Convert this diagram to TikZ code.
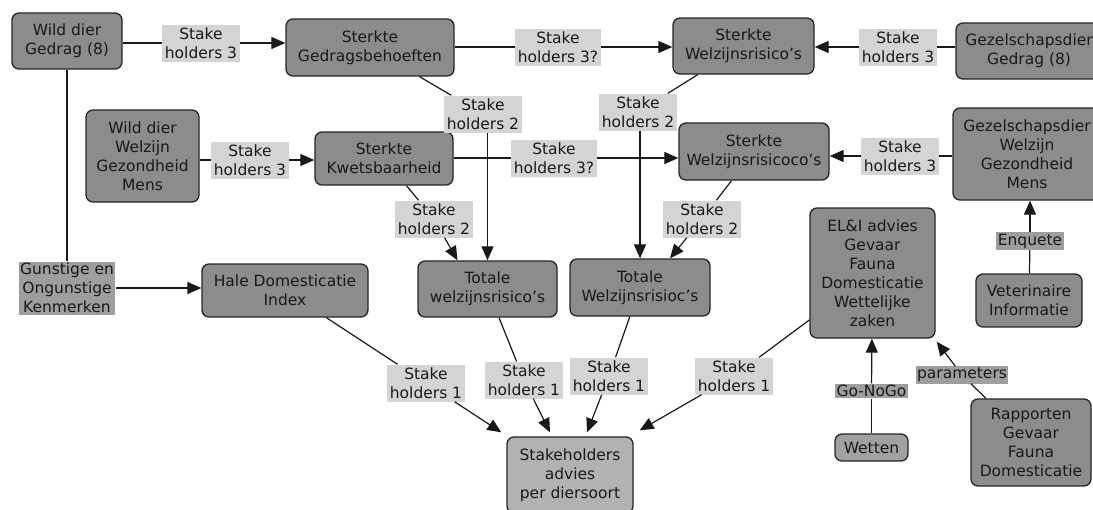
\documentclass[tikz,border=0pt]{standalone}
\usepackage{fontspec}
\setmainfont{DejaVu Sans}
\usetikzlibrary{arrows.meta}

\begin{document}
\begin{tikzpicture}[x=1pt,y=-1pt,
  concept/.style={draw=black!85,fill=black!45,rounded corners=7pt,line width=1.3pt,
    align=center,inner sep=2pt,text=black!90},
  link/.style={fill=black!17,align=center,inner sep=3pt,text=black!90},
  darklink/.style={fill=black!38,align=center,inner sep=1.5pt,text=black!90},
  conn/.style={line width=1.2pt,draw=black!90},
  arr/.style={conn,-{Triangle[length=14pt,width=12pt]}},
  font=\fontsize{15.5}{19}\selectfont]
  \useasboundingbox (0,0) rectangle (1093,509);

  % concepts
  \node[concept,minimum width=110pt,minimum height=56pt] (wgedrag) at (67,41) {Wild dier\\Gedrag (8)};
  \node[concept,minimum width=168pt,minimum height=57pt] (sgedrag) at (370,47.5) {Sterkte\\Gedragsbehoeften};
  \node[concept,minimum width=141pt,minimum height=56pt] (swelz1) at (743.5,46) {Sterkte\\Welzijnsrisico's};
  \node[concept,minimum width=146pt,minimum height=56pt] (ggedrag) at (1029,51) {Gezelschapsdier\\Gedrag (8)};
  \node[concept,minimum width=113pt,minimum height=92pt] (wwelz) at (142.5,156) {Wild dier\\Welzijn\\Gezondheid\\Mens};
  \node[concept,minimum width=138pt,minimum height=53pt] (skwets) at (384,158.5) {Sterkte\\Kwetsbaarheid};
  \node[concept,minimum width=150pt,minimum height=57pt] (swelz2) at (754,151.5) {Sterkte\\Welzijnsrisicoco's};
  \node[concept,minimum width=148pt,minimum height=92pt] (gwelz) at (1027,154) {Gezelschapsdier\\Welzijn\\Gezondheid\\Mens};
  \node[concept,minimum width=125pt,minimum height=130pt] (eli) at (872.5,273) {EL\&I advies\\Gevaar\\Fauna\\Domesticatie\\Wettelijke\\zaken};
  \node[concept,minimum width=106pt,minimum height=53pt] (vet) at (1029,300.5) {Veterinaire\\Informatie};
  \node[concept,minimum width=139pt,minimum height=56pt] (totaal1) at (487.5,289) {Totale\\welzijnsrisico's};
  \node[concept,minimum width=140pt,minimum height=57pt] (totaal2) at (640,287.5) {Totale\\Welzijnsrisioc's};
  \node[concept,minimum width=166pt,minimum height=53pt] (hale) at (285,290.5) {Hale Domesticatie\\Index};
  \node[concept,fill=black!30,minimum width=126pt,minimum height=76pt] (advies) at (570,475) {Stakeholders\\advies\\per diersoort};
  \node[concept,fill=black!37,minimum width=73pt,minimum height=27pt] (wetten) at (871.5,447.5) {Wetten};
  \node[concept,minimum width=120pt,minimum height=87pt] (rapport) at (1031,442.5) {Rapporten\\Gevaar\\Fauna\\Domesticatie};

  % link labels
  \node[link] (l1) at (201,43) {Stake\\holders 3};
  \node[link] (l2) at (558,47) {Stake\\holders 3?};
  \node[link] (l3) at (898,47) {Stake\\holders 3};
  \node[link] (l4) at (483,114) {Stake\\holders 2};
  \node[link] (l5) at (638,112) {Stake\\holders 2};
  \node[link] (l6) at (250,160) {Stake\\holders 3};
  \node[link] (l7) at (554,158) {Stake\\holders 3?};
  \node[link] (l8) at (900,156) {Stake\\holders 3};
  \node[link] (l9) at (434,219) {Stake\\holders 2};
  \node[link] (l10) at (702,219) {Stake\\holders 2};
  \node[link] (l11) at (426,383) {Stake\\holders 1};
  \node[link] (l12) at (524,380) {Stake\\holders 1};
  \node[link] (l13) at (609,376) {Stake\\holders 1};
  \node[link] (l14) at (734,376) {Stake\\holders 1};
  \node[darklink] (gunst) at (67,288) {Gunstige en\\Ongunstige\\Kenmerken};
  \node[darklink] (enq) at (1030,241) {Enquete};
  \node[darklink] (gonogo) at (871.5,391) {Go-NoGo};
  \node[darklink] (param) at (962,375) {parameters};

  % connectors
  \draw[conn] (wgedrag.east |- l1) -- (l1);
  \draw[arr] (l1) -- (l1 -| sgedrag.west);
  \draw[conn] (sgedrag.east |- l2) -- (l2);
  \draw[arr] (l2) -- (l2 -| swelz1.west);
  \draw[conn] (ggedrag.west |- l3) -- (l3);
  \draw[arr] (l3) -- (l3 -| swelz1.east);
  \draw[conn] (sgedrag) -- (l4);
  \draw[arr] (totaal1.north |- l4.south) -- (totaal1.north);
  \draw[conn] (swelz1) -- (l5);
  \draw[arr] (totaal2.north |- l5.south) -- (totaal2.north);
  \draw[conn] (wwelz.east |- l6) -- (l6);
  \draw[arr] (l6) -- (l6 -| skwets.west);
  \draw[conn] (skwets.east |- l7) -- (l7);
  \draw[arr] (l7) -- (l7 -| swelz2.west);
  \draw[conn] (gwelz.west |- l8) -- (l8);
  \draw[arr] (l8) -- (l8 -| swelz2.east);
  \draw[conn] (skwets) -- (l9);
  \draw[arr] (l9) -- ([xshift=-30pt]totaal1.north);
  \draw[conn] (swelz2) -- (l10);
  \draw[arr] (l10) -- ([xshift=30pt]totaal2.north);
  \draw[conn] (vet) -- (enq);
  \draw[arr] (enq) -- (enq |- gwelz.south);
  \draw[conn] (wgedrag) -- (gunst);
  \draw[arr] (gunst) -- (gunst -| hale.west);
  \draw[conn] (hale) -- (l11);
  \draw[arr] (l11) -- ([xshift=-5pt,yshift=4pt]advies.north west);
  \draw[conn] (totaal1) -- (l12);
  \draw[arr] (l12) -- ([xshift=-20pt,yshift=4pt]advies.north);
  \draw[conn] (totaal2) -- (l13);
  \draw[arr] (l13) -- ([xshift=17pt,yshift=4pt]advies.north);
  \draw[conn] (eli) -- (l14);
  \draw[arr] (l14) -- ([xshift=6pt,yshift=6pt]advies.north east);
  \draw[conn] (wetten) -- (gonogo);
  \draw[arr] (gonogo) -- (eli);
  \draw[conn] (rapport) -- (param);
  \draw[arr] (param) -- ([xshift=1pt,yshift=-3pt]eli.south east);
\end{tikzpicture}
\end{document}
